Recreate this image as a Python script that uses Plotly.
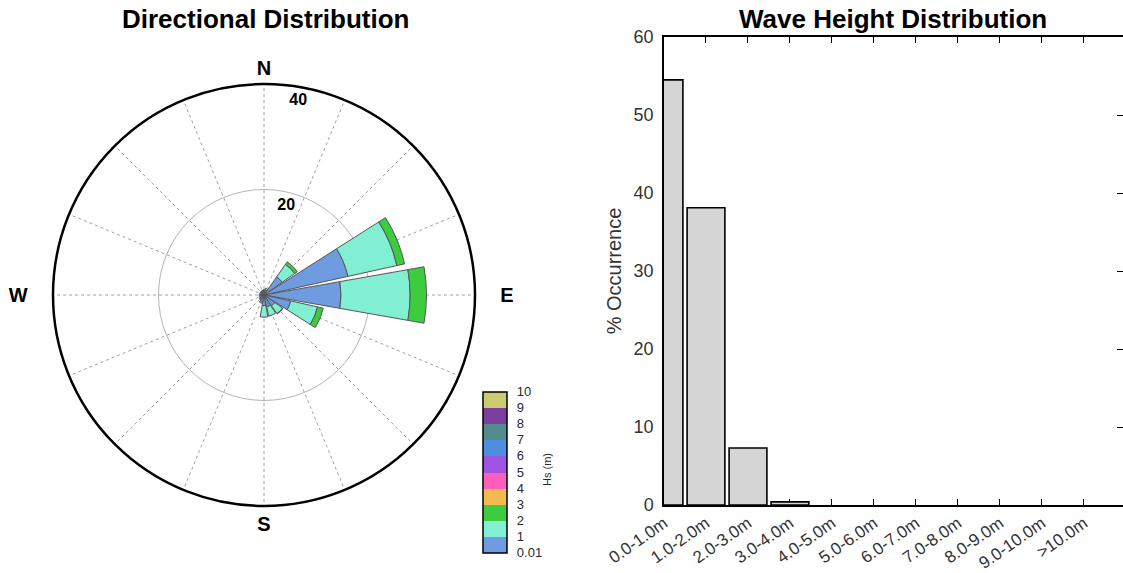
"""Wave climate summary: directional rose and wave height histogram."""

import plotly.graph_objects as go

# --- directional rose data (% occurrence per Hs band, per direction) ---
directions = [0, 22.5, 45, 67.5, 90, 112.5, 135, 157.5,
              180, 202.5, 225, 247.5, 270, 292.5, 315, 337.5]
hs_0_1 = [0.9, 1.0, 4.2, 16.3, 14.6, 5.2, 2.5, 2.3, 2.0, 1.3, 1.0, 0.9, 0.9, 0.8, 0.8, 0.8]
hs_1_2 = [0.1, 0.3, 2.9, 9.5, 13.1, 5.2, 1.8, 1.8, 2.2, 0.3, 0.1, 0.0, 0.0, 0.0, 0.1, 0.1]
hs_2_3 = [0.0, 0.0, 0.6, 1.5, 3.1, 1.1, 0.1, 0.0, 0.0, 0.0, 0.0, 0.0, 0.0, 0.0, 0.0, 0.0]

compass_labels = ["N", "", "", "", "\u2003E", "", "", "", "S", "", "", "", "W\u2003", "", "", ""]
radial_ticks = [20, 40]

# colour legend for Hs bands (bottom to top)
hs_edges = ["0.01", "1", "2", "3", "4", "5", "6", "7", "8", "9", "10"]
hs_colors = ["#6f9be0", "#80efd2", "#3dcc3d", "#f5b951", "#ff5fbb",
             "#a052e0", "#4d8fde", "#528c8c", "#7c3fa0", "#cccb70"]

# --- wave height histogram ---
height_bins = ["0.0-1.0m", "1.0-2.0m", "2.0-3.0m", "3.0-4.0m", "4.0-5.0m", "5.0-6.0m",
               "6.0-7.0m", "7.0-8.0m", "8.0-9.0m", "9.0-10.0m", ">10.0m"]
occurrence = [54.5, 38.1, 7.3, 0.4, 0, 0, 0, 0, 0, 0, 0]

W, H = 1123, 573
FONT = "Liberation Sans, Arial, sans-serif"

fig = go.Figure()

for vals, col, name in zip([hs_0_1, hs_1_2, hs_2_3], hs_colors,
                           ["0.01-1", "1-2", "2-3"]):
    fig.add_trace(go.Barpolar(
        r=vals, theta=directions, width=20, name=name,
        marker=dict(color=col, line=dict(color="#555555", width=1)),
        showlegend=False,
    ))

# radial labels, just inside their rings
fig.add_trace(go.Scatterpolar(
    r=[t - 2.6 for t in radial_ticks], theta=[14, 10],
    mode="text", text=[str(t) for t in radial_ticks],
    textfont=dict(family=FONT, size=16, color="black", weight="bold"),
    showlegend=False, hoverinfo="skip",
))

fig.add_trace(go.Bar(
    x=height_bins, y=occurrence, width=0.9,
    marker=dict(color="#d5d5d5",
                line=dict(color="black", width=[1.6 if v > 0 else 0 for v in occurrence])),
    showlegend=False,
))

# dummy trace to carry the Hs colour bar
n = len(hs_colors)
scale = []
for i, c in enumerate(hs_colors):
    scale += [[i / n, c], [(i + 1) / n, c]]
fig.add_trace(go.Scatter(
    x=[None], y=[None], mode="markers", showlegend=False,
    marker=dict(
        color=[0], cmin=0, cmax=10, colorscale=scale, showscale=True,
        colorbar=dict(
            x=483 / W, xanchor="left", y=(H - 472) / H, yanchor="middle",
            xpad=0, ypad=0,
            thickness=24, len=161, lenmode="pixels",
            outlinecolor="black", outlinewidth=1.5,
            tickvals=list(range(11)), ticktext=hs_edges,
            ticks="outside", ticklen=7, tickcolor="rgba(0,0,0,0)",
            tickfont=dict(family=FONT, size=13, color="#2a2a2a"),
        ),
    ),
))

fig.update_layout(
    width=W, height=H,
    paper_bgcolor="white", plot_bgcolor="white",
    margin=dict(l=0, r=0, t=0, b=0),
    font=dict(family=FONT, color="#333333"),
    polar=dict(
        domain=dict(x=[53 / W, 475 / W], y=[(H - 506) / H, (H - 84) / H]),
        bgcolor="white",
        barmode="stack",
        angularaxis=dict(
            rotation=90, direction="clockwise",
            tickmode="array", tickvals=directions, ticktext=compass_labels,
            ticks="", showline=True, linecolor="black", linewidth=2.5,
            gridcolor="#a0a0a0", griddash="dot", gridwidth=1,
            tickfont=dict(family=FONT, size=20, color="black", weight="bold"),
        ),
        radialaxis=dict(
            range=[0, 40], tickvals=radial_ticks, showticklabels=False,
            ticks="", showline=False, gridcolor="#b4b4b4", gridwidth=1.3,
        ),
    ),
    xaxis=dict(
        domain=[664 / W, 1.0], range=[0, 10.93], type="category",
        showline=True, linecolor="black", linewidth=1.5, mirror="allticks",
        ticks="inside", ticklen=6, tickcolor="black", tickangle=-35,
        showgrid=False, automargin=False, layer="below traces",
        tickfont=dict(family=FONT, size=17, color="#333333"),
    ),
    yaxis=dict(
        domain=[(H - 505) / H, (H - 37) / H], range=[0, 60], dtick=10,
        showline=True, linecolor="black", linewidth=1.5, mirror="allticks",
        ticks="inside", ticklen=6, tickcolor="black", ticklabelstandoff=5,
        showgrid=False, zeroline=False, automargin=False, layer="below traces",
        tickfont=dict(family=FONT, size=18, color="#333333"),
        title=dict(text="% Occurrence", standoff=7,
                   font=dict(family=FONT, size=20, color="#333333")),
    ),
    annotations=[
        dict(text="<b>Directional Distribution</b>", x=265 / W, y=1 - 19 / H,
             xref="paper", yref="paper", xanchor="center", yanchor="middle",
             showarrow=False, font=dict(family=FONT, size=26, color="black")),
        dict(text="<b>Wave Height Distribution</b>", x=893 / W, y=1 - 19 / H,
             xref="paper", yref="paper", xanchor="center", yanchor="middle",
             showarrow=False, font=dict(family=FONT, size=26, color="black")),
        dict(text="Hs (m)", x=547 / W, y=1 - 470 / H, textangle=-90,
             xref="paper", yref="paper", xanchor="center", yanchor="middle",
             showarrow=False, font=dict(family=FONT, size=11, color="#2a2a2a")),
    ],
)

fig.write_html("out.html", config={"displayModeBar": False},
               post_script="document.body.style.margin='0';")
